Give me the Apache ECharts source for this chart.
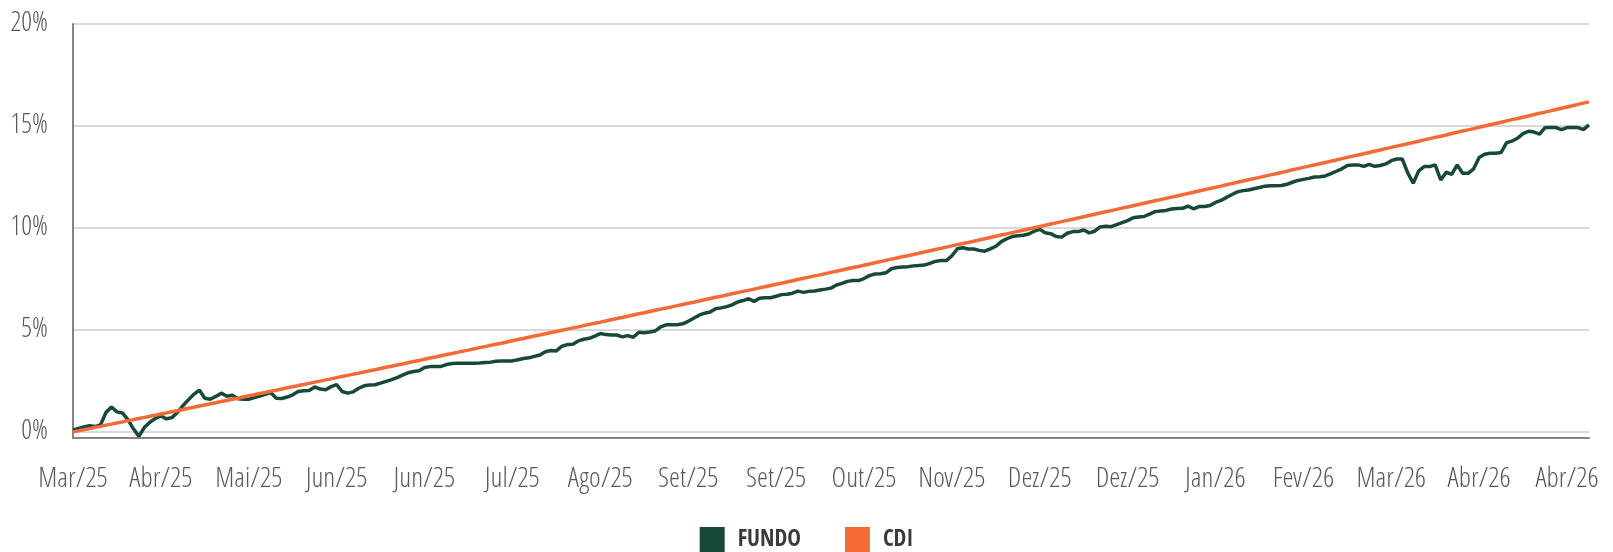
<!DOCTYPE html>
<html>
<head>
<meta charset="utf-8">
<script src="https://cdn.jsdelivr.net/npm/echarts@6/dist/echarts.min.js"></script>
<style>
html,body{margin:0;padding:0;background:#fff;}
#chart{width:1613px;height:552px;}
</style>
</head>
<body>
<div id="chart"></div>
<script>
// Month label of each business-day point (label, number of points)
const monthRuns = [
  ["Mar/25",7],["Abr/25",20],["Mai/25",21],["Jun/25",20],["Jul/25",23],["Ago/25",21],
  ["Set/25",22],["Out/25",23],["Nov/25",19],["Dez/25",21],["Jan/26",20],["Fev/26",18],
  ["Mar/26",20],["Abr/26",22]
];
const yTickValues = [0, 5, 10, 15, 20];

const fundo = [
0.10,0.17,0.24,0.30,0.26,0.34,0.95,1.22,0.98,0.93,
0.60,0.15,-0.22,0.22,0.47,0.66,0.78,0.64,0.70,0.95,
1.28,1.57,1.84,2.05,1.65,1.60,1.74,1.90,1.75,1.80,
1.63,1.60,1.60,1.68,1.76,1.84,1.93,1.65,1.64,1.71,
1.82,1.98,2.02,2.03,2.20,2.10,2.07,2.22,2.32,1.98,
1.90,1.96,2.14,2.26,2.30,2.31,2.39,2.48,2.56,2.66,
2.78,2.90,2.96,3.00,3.16,3.20,3.20,3.21,3.30,3.35,
3.36,3.37,3.37,3.37,3.38,3.40,3.42,3.46,3.48,3.48,
3.48,3.54,3.60,3.63,3.70,3.77,3.93,3.99,3.97,4.20,
4.28,4.30,4.46,4.54,4.59,4.70,4.82,4.77,4.75,4.75,
4.66,4.72,4.64,4.88,4.86,4.90,4.95,5.15,5.25,5.25,
5.25,5.30,5.42,5.57,5.72,5.82,5.88,6.04,6.08,6.14,
6.23,6.37,6.44,6.53,6.40,6.55,6.58,6.58,6.65,6.73,
6.75,6.80,6.90,6.84,6.89,6.91,6.96,7.00,7.05,7.20,
7.28,7.38,7.42,7.42,7.52,7.66,7.74,7.75,7.80,8.00,
8.06,8.08,8.10,8.14,8.16,8.18,8.26,8.36,8.40,8.40,
8.63,8.98,9.03,8.97,8.97,8.90,8.86,8.97,9.10,9.33,
9.47,9.58,9.62,9.64,9.70,9.84,9.93,9.76,9.72,9.58,
9.55,9.74,9.82,9.82,9.90,9.76,9.84,10.05,10.08,10.06,
10.16,10.26,10.36,10.50,10.54,10.56,10.68,10.80,10.83,10.86,
10.93,10.95,10.96,11.07,10.94,11.05,11.05,11.10,11.25,11.35,
11.50,11.64,11.77,11.83,11.86,11.92,11.98,12.05,12.07,12.07,
12.08,12.14,12.24,12.33,12.38,12.43,12.50,12.51,12.55,12.66,
12.78,12.90,13.06,13.09,13.09,13.02,13.12,13.02,13.06,13.14,
13.30,13.38,13.38,12.70,12.19,12.80,13.01,13.01,13.09,12.35,
12.73,12.63,13.09,12.68,12.68,12.90,13.45,13.61,13.66,13.66,
13.70,14.18,14.26,14.40,14.62,14.74,14.70,14.60,14.92,14.92,
14.92,14.82,14.92,14.92,14.92,14.82,15.05
];

const cdi = [
0.00,0.05,0.11,0.16,0.22,0.27,0.33,0.38,0.44,0.49,
0.55,0.60,0.66,0.71,0.77,0.82,0.88,0.93,0.99,1.04,
1.10,1.16,1.21,1.27,1.32,1.38,1.43,1.49,1.54,1.60,
1.65,1.71,1.77,1.82,1.88,1.93,1.99,2.04,2.10,2.16,
2.21,2.27,2.32,2.38,2.44,2.49,2.55,2.60,2.66,2.72,
2.77,2.83,2.88,2.94,3.00,3.05,3.11,3.17,3.22,3.28,
3.33,3.39,3.45,3.50,3.56,3.62,3.67,3.73,3.79,3.84,
3.90,3.96,4.01,4.07,4.13,4.18,4.24,4.30,4.35,4.41,
4.47,4.53,4.58,4.64,4.70,4.75,4.81,4.87,4.92,4.98,
5.04,5.10,5.15,5.21,5.27,5.33,5.38,5.44,5.50,5.56,
5.61,5.67,5.73,5.79,5.84,5.90,5.96,6.02,6.07,6.13,
6.19,6.25,6.31,6.36,6.42,6.48,6.54,6.60,6.65,6.71,
6.77,6.83,6.89,6.94,7.00,7.06,7.12,7.18,7.24,7.29,
7.35,7.41,7.47,7.53,7.59,7.65,7.70,7.76,7.82,7.88,
7.94,8.00,8.06,8.11,8.17,8.23,8.29,8.35,8.41,8.47,
8.53,8.59,8.64,8.70,8.76,8.82,8.88,8.94,9.00,9.06,
9.12,9.18,9.24,9.29,9.35,9.41,9.47,9.53,9.59,9.65,
9.71,9.77,9.83,9.89,9.95,10.01,10.07,10.13,10.19,10.25,
10.31,10.37,10.43,10.49,10.55,10.61,10.67,10.73,10.79,10.85,
10.91,10.97,11.03,11.09,11.15,11.21,11.27,11.33,11.39,11.45,
11.51,11.57,11.63,11.69,11.75,11.81,11.87,11.93,11.99,12.05,
12.12,12.18,12.24,12.30,12.36,12.42,12.48,12.54,12.60,12.66,
12.72,12.78,12.85,12.91,12.97,13.03,13.09,13.15,13.21,13.27,
13.33,13.40,13.46,13.52,13.58,13.64,13.70,13.76,13.82,13.89,
13.95,14.01,14.07,14.13,14.19,14.25,14.32,14.38,14.44,14.50,
14.56,14.63,14.69,14.75,14.81,14.87,14.94,15.00,15.06,15.12,
15.18,15.25,15.31,15.37,15.43,15.49,15.56,15.62,15.68,15.74,
15.81,15.87,15.93,15.99,16.06,16.12,16.18
];

const categories = [];
monthRuns.forEach(([label, n]) => { for (let k = 0; k < n; k++) categories.push(label); });

const FONT = "'Open Sans Condensed Light','Open Sans Condensed','Liberation Sans Narrow','Roboto Condensed','DejaVu Sans Condensed','Noto Sans',sans-serif";
const FONT_BOLD = "'Open Sans Condensed','Liberation Sans Narrow','Roboto Condensed','DejaVu Sans Condensed','Noto Sans',sans-serif";

const chart = echarts.init(document.getElementById('chart'));
chart.setOption({
  animation: false,
  backgroundColor: '#ffffff',
  grid: { left: 73, right: 24, top: 24, bottom: 114, containLabel: false },
  legend: {
    data: ['FUNDO', 'CDI'],
    left: 'center',
    top: 522,
    icon: 'rect',
    itemWidth: 25,
    itemHeight: 25,
    itemGap: 44,
    textStyle: { fontFamily: FONT_BOLD, fontSize: 23, fontWeight: 'bold', color: '#3a3a3a', padding: [0, 0, 0, 8] }
  },
  xAxis: {
    type: 'category',
    data: categories,
    boundaryGap: false,
    axisLine: { show: true, onZero: false, lineStyle: { color: '#858585', width: 2 } },
    axisTick: { show: false },
    axisLabel: { interval: 15, margin: 28, fontFamily: FONT, fontWeight: 300, fontSize: 28, color: '#595959' },
    splitLine: { show: false }
  },
  yAxis: {
    type: 'value',
    min: -0.3,
    max: 20,
    axisLine: { show: true, lineStyle: { color: '#858585', width: 2 } },
    axisTick: { show: false, customValues: yTickValues },
    axisLabel: { customValues: yTickValues, margin: 25, fontFamily: FONT, fontWeight: 300, fontSize: 27, color: '#595959', formatter: v => v + '%' },
    splitLine: { show: true, lineStyle: { color: '#d9d9d9', width: 2 } }
  },
  series: [
    { name: 'FUNDO', type: 'line', data: fundo, symbol: 'none', color: '#17493a', lineStyle: { width: 3.5, color: '#17493a' } },
    { name: 'CDI', type: 'line', data: cdi, symbol: 'none', color: '#f26a36', lineStyle: { width: 3.5, color: '#f26a36' } }
  ]
});
</script>
</body>
</html>
